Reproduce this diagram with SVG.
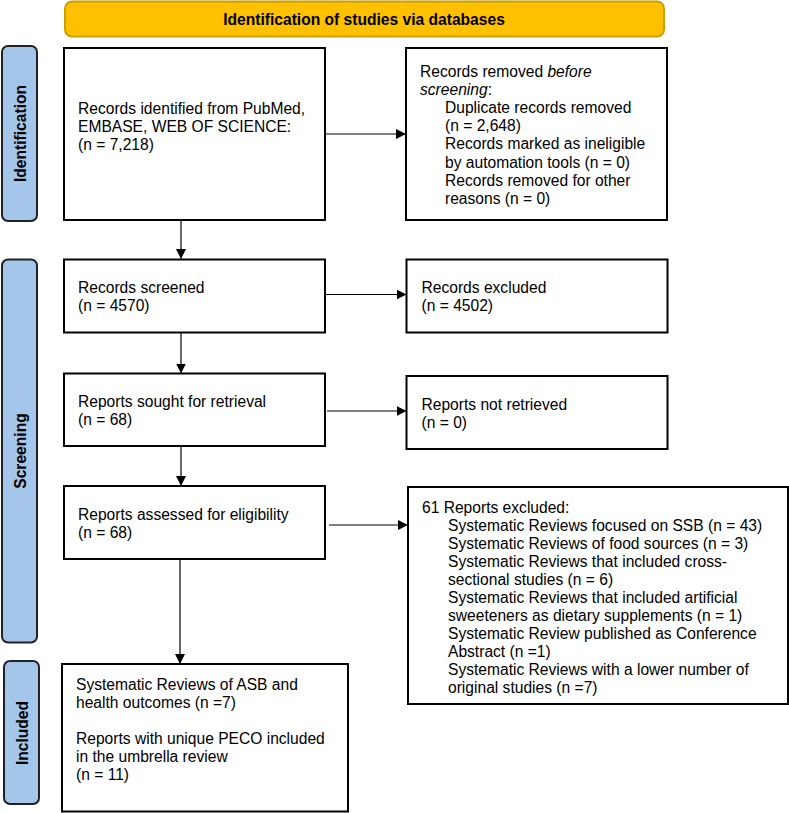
<svg xmlns="http://www.w3.org/2000/svg" width="789" height="813" viewBox="0 0 789 813">
<defs>
<style>
.t{font-family:"Liberation Sans",Arial,sans-serif;font-size:15.6px;fill:#000}
.b{font-family:"Liberation Sans",Arial,sans-serif;font-size:15.6px;font-weight:bold;fill:#000}
.box{fill:#fff;stroke:#000;stroke-width:2}
.side{fill:#A3C6EA;stroke:#222;stroke-width:2}
.ban{fill:#FFC000;stroke:#C9A000;stroke-width:2}
.c{stroke:#000;stroke-width:1.2;fill:none}
</style>
<marker id="ah" markerWidth="10" markerHeight="10" refX="9" refY="5" orient="auto" markerUnits="userSpaceOnUse">
<path d="M0,0 L10,5 L0,10 Z" fill="#000"/>
</marker>
</defs>
<rect width="789" height="813" fill="#fff"/>
<g id="banner">
<rect class="ban" x="65" y="1.5" width="599" height="35" rx="7"/>
<text class="b" x="364" y="25" text-anchor="middle">Identification of studies via databases</text>
</g>
<g id="lbl-identification">
<rect class="side" x="2" y="46" width="35" height="175" rx="6"/>
<text class="b" transform="translate(25.5,133.5) rotate(-90)" text-anchor="middle">Identification</text>
</g>
<g id="lbl-screening">
<rect class="side" x="2" y="259.5" width="35" height="383" rx="6"/>
<text class="b" transform="translate(25.5,451) rotate(-90)" text-anchor="middle">Screening</text>
</g>
<g id="lbl-included">
<rect class="side" x="4" y="661" width="35" height="143" rx="6"/>
<text class="b" transform="translate(27.5,733) rotate(-90)" text-anchor="middle">Included</text>
</g>
<g id="identified">
<rect class="box" x="64" y="48" width="261" height="172"/>
<text class="t" x="78" y="113.5">Records identified from PubMed,</text>
<text class="t" x="78" y="131.9">EMBASE, WEB OF SCIENCE:</text>
<text class="t" x="78" y="150.3">(n = 7,218)</text>
</g>
<g id="removed">
<rect class="box" x="406" y="48" width="261" height="172"/>
<text class="t" x="420" y="77">Records removed <tspan font-style="italic">before</tspan></text>
<text class="t" x="420" y="95.1"><tspan font-style="italic">screening</tspan>:</text>
<text class="t" x="445" y="113.2">Duplicate records removed</text>
<text class="t" x="445" y="131.3">(n = 2,648)</text>
<text class="t" x="445" y="149.4">Records marked as ineligible</text>
<text class="t" x="445" y="167.5">by automation tools (n = 0)</text>
<text class="t" x="445" y="185.6">Records removed for other</text>
<text class="t" x="445" y="203.7">reasons (n = 0)</text>
</g>
<g id="screened">
<rect class="box" x="64" y="259.5" width="261" height="73"/>
<text class="t" x="78" y="293">Records screened</text>
<text class="t" x="78" y="311.4">(n = 4570)</text>
</g>
<g id="excluded">
<rect class="box" x="406.5" y="259.5" width="261" height="73"/>
<text class="t" x="421.5" y="293">Records excluded</text>
<text class="t" x="421.5" y="311.4">(n = 4502)</text>
</g>
<g id="sought">
<rect class="box" x="64" y="373.5" width="261" height="72.5"/>
<text class="t" x="78" y="407">Reports sought for retrieval</text>
<text class="t" x="78" y="425.4">(n = 68)</text>
</g>
<g id="notretrieved">
<rect class="box" x="406.5" y="376" width="261" height="73"/>
<text class="t" x="421.5" y="409.5">Reports not retrieved</text>
<text class="t" x="421.5" y="427.9">(n = 0)</text>
</g>
<g id="assessed">
<rect class="box" x="64" y="486" width="261" height="73"/>
<text class="t" x="78" y="519.5">Reports assessed for eligibility</text>
<text class="t" x="78" y="537.9">(n = 68)</text>
</g>
<g id="reportsexcluded">
<rect class="box" x="408" y="487" width="380" height="217"/>
<text class="t" x="422" y="512.5">61 Reports excluded:</text>
<text class="t" x="448" y="530.5">Systematic Reviews focused on SSB (n = 43)</text>
<text class="t" x="448" y="548.5">Systematic Reviews of food sources (n = 3)</text>
<text class="t" x="448" y="566.5">Systematic Reviews that included cross-</text>
<text class="t" x="448" y="584.5">sectional studies (n = 6)</text>
<text class="t" x="448" y="602.5">Systematic Reviews that included artificial</text>
<text class="t" x="448" y="620.5">sweeteners as dietary supplements (n = 1)</text>
<text class="t" x="448" y="638.5">Systematic Review published as Conference</text>
<text class="t" x="448" y="656.5">Abstract (n =1)</text>
<text class="t" x="448" y="674.5">Systematic Reviews with a lower number of</text>
<text class="t" x="448" y="692.5">original studies (n =7)</text>
</g>
<g id="included">
<rect class="box" x="62" y="664" width="286" height="147.5"/>
<text class="t" x="76" y="689.5">Systematic Reviews of ASB and</text>
<text class="t" x="76" y="707.8">health outcomes (n =7)</text>
<text class="t" x="76" y="744">Reports with unique PECO included</text>
<text class="t" x="76" y="762.2">in the umbrella review</text>
<text class="t" x="76" y="780.4">(n = 11)</text>
</g>
<g id="connectors">
<line class="c" x1="325" y1="134" x2="405" y2="134" marker-end="url(#ah)"/>
<line class="c" x1="181" y1="220" x2="181" y2="258" marker-end="url(#ah)"/>
<line class="c" x1="325" y1="294.5" x2="405.5" y2="294.5" marker-end="url(#ah)"/>
<line class="c" x1="181" y1="332.5" x2="181" y2="372.5" marker-end="url(#ah)"/>
<line class="c" x1="327" y1="411" x2="405.5" y2="411" marker-end="url(#ah)"/>
<line class="c" x1="181" y1="446" x2="181" y2="485" marker-end="url(#ah)"/>
<line class="c" x1="329" y1="525" x2="407" y2="525" marker-end="url(#ah)"/>
<line class="c" x1="180" y1="559" x2="180" y2="663" marker-end="url(#ah)"/>
</g>
</svg>
